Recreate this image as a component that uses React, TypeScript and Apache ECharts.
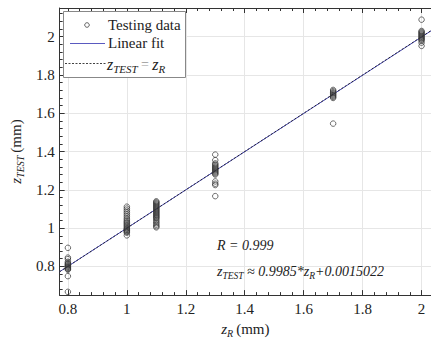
import React, { useEffect, useRef } from "react";
import * as echarts from "echarts";

// Reference heights z_R (mm)
const zR = [0.8, 1.0, 1.1, 1.3, 1.7, 2.0];
// Measured z_TEST values (mm) for each reference height
const zTest_080 = [0.897, 0.846, 0.838, 0.824, 0.818, 0.813, 0.809, 0.805, 0.801, 0.797, 0.793, 0.789, 0.786, 0.783, 0.749, 0.667];
const zTest_100 = [1.112, 1.102, 1.092, 1.082, 1.072, 1.062, 1.052, 1.044, 1.036, 1.03, 1.024, 1.018, 1.012, 1.006, 1.0, 0.996, 0.992, 0.988, 0.984, 0.98, 0.976, 0.962];
const zTest_110 = [1.14, 1.135, 1.13, 1.125, 1.12, 1.115, 1.11, 1.105, 1.1, 1.095, 1.09, 1.085, 1.08, 1.075, 1.07, 1.065, 1.06, 1.055, 1.05, 1.042, 1.034, 1.026, 1.018, 1.01, 1.004];
const zTest_130 = [1.384, 1.355, 1.338, 1.332, 1.326, 1.32, 1.315, 1.31, 1.305, 1.3, 1.295, 1.29, 1.285, 1.28, 1.244, 1.232, 1.225, 1.167];
const zTest_170 = [1.722, 1.716, 1.71, 1.705, 1.7, 1.695, 1.69, 1.685, 1.68, 1.546];
const zTest_200 = [2.089, 2.03, 2.025, 2.02, 2.015, 2.01, 2.005, 2.0, 1.995, 1.99, 1.985, 1.98, 1.969, 1.952];
const zTestGroups = [zTest_080, zTest_100, zTest_110, zTest_130, zTest_170, zTest_200];

// Linear fit  z_TEST = slope * z_R + intercept
const fitSlope = 0.9985;
const fitIntercept = 0.0015022;
const fitR = "0.999";

// Axis ranges
const xMin = 0.772;
const xMax = 2.032;
const yMin = 0.65;
const yMax = 2.15;

const FONT = "Liberation Serif";

export default function App() {
  const ref = useRef<HTMLDivElement>(null);
  useEffect(() => {
    if (!ref.current) return;
    const chart = echarts.init(ref.current, null, { renderer: "svg" });

    const scatterData: number[][] = [];
    zR.forEach((x, i) => zTestGroups[i].forEach((y) => scatterData.push([x, y])));
    const fitLine = [xMin, xMax].map((x) => [x, fitSlope * x + fitIntercept]);
    const idLine = [xMin, xMax].map((x) => [x, x]);

    const fmt = (v: number) => {
      const k = Math.round(v / 0.2);
      if (Math.abs(v - k * 0.2) > 1e-6) return "";
      return String(Math.round(v * 10) / 10);
    };

    const axisCommon = {
      axisLine: { show: true, onZero: false, lineStyle: { color: "#333", width: 1 } },
      axisTick: { show: true, inside: true, length: 5, lineStyle: { color: "#333" } },
      minorTick: { show: true, splitNumber: 5, length: 3, lineStyle: { color: "#333" } },
      splitLine: { show: true, lineStyle: { color: "#e6e6e6", width: 1 } },
      minInterval: 0.2,
      maxInterval: 0.2,
    };

    const nameRich = {
      i: { fontFamily: FONT, fontStyle: "italic", fontSize: 15, color: "#222" },
      sub: { fontFamily: FONT, fontStyle: "italic", fontSize: 10, color: "#222", padding: [9, 0, 0, 0] },
      n: { fontFamily: FONT, fontSize: 15, color: "#222" },
    };

    chart.setOption({
      animation: false,
      textStyle: { fontFamily: FONT },
      grid: { left: 58, right: 0, top: 8, bottom: 42, containLabel: false },
      xAxis: [
        {
          type: "value",
          min: xMin,
          max: xMax,
          splitNumber: 6,
          ...axisCommon,
          axisLabel: {
            fontFamily: FONT,
            fontSize: 15,
            color: "#222",
            margin: 6,
            showMinLabel: false,
            showMaxLabel: false,
            formatter: fmt,
          },
          name: "{i|z}{sub|R} {n|(mm)}",
          nameLocation: "middle",
          nameGap: 9,
          nameTextStyle: { fontFamily: FONT, rich: nameRich },
        },
        {
          type: "value",
          position: "top",
          min: xMin,
          max: xMax,
          splitNumber: 6,
          ...axisCommon,
          splitLine: { show: false },
          axisLabel: { show: false },
        },
      ],
      yAxis: [
        {
          type: "value",
          min: yMin,
          max: yMax,
          splitNumber: 7,
          ...axisCommon,
          axisLabel: {
            fontFamily: FONT,
            fontSize: 15,
            color: "#222",
            margin: 5,
            showMinLabel: false,
            showMaxLabel: false,
            formatter: fmt,
          },
          name: "{i|z}{sub|TEST} {n|(mm)}",
          nameLocation: "middle",
          nameRotate: 90,
          nameGap: 30,
          nameTextStyle: { fontFamily: FONT, rich: nameRich },
        },
      ],
      series: [
        {
          type: "line",
          data: fitLine,
          showSymbol: false,
          symbol: "none",
          lineStyle: { color: "#4848b0", width: 1 },
          z: 2,
        },
        {
          type: "line",
          data: idLine,
          showSymbol: false,
          symbol: "none",
          lineStyle: { color: "#111", width: 0.8, type: [2, 2] },
          z: 3,
        },
        {
          type: "scatter",
          data: scatterData,
          symbol: "circle",
          symbolSize: 5.5,
          itemStyle: { color: "rgba(255,255,255,0)", borderColor: "#333", borderWidth: 0.9 },
          z: 4,
        },
      ],
      graphic: [
        {
          type: "rect",
          shape: { x: 63.5, y: 11.5, width: 122, height: 66 },
          style: { fill: "#fff", stroke: "#888", lineWidth: 1 },
          z: 100,
        },
        {
          type: "circle",
          shape: { cx: 87, cy: 25, r: 2.3 },
          style: { fill: "none", stroke: "#555", lineWidth: 0.9 },
          z: 101,
        },
        {
          type: "text",
          x: 108,
          y: 25,
          style: { text: "Testing data", fontFamily: FONT, fontSize: 15, fill: "#222", verticalAlign: "middle" },
          z: 101,
        },
        {
          type: "line",
          shape: { x1: 70, y1: 43.5, x2: 105, y2: 43.5 },
          style: { stroke: "#5a5ac0", lineWidth: 1 },
          z: 101,
        },
        {
          type: "text",
          x: 108,
          y: 43,
          style: { text: "Linear fit", fontFamily: FONT, fontSize: 15, fill: "#222", verticalAlign: "middle" },
          z: 101,
        },
        {
          type: "line",
          shape: { x1: 65, y1: 63.5, x2: 106, y2: 63.5 },
          style: { stroke: "#111", lineWidth: 0.8, lineDash: [2, 1.5] },
          z: 101,
        },
        {
          type: "text",
          x: 107,
          y: 64,
          style: {
            text: "{i|z}{sub|TEST} {n|=} {i|z}{sub|R}",
            verticalAlign: "middle",
            rich: {
              i: { fontFamily: FONT, fontStyle: "italic", fontSize: 16, fill: "#222" },
              sub: { fontFamily: FONT, fontStyle: "italic", fontSize: 11, fill: "#222", padding: [10, 0, 0, 0] },
              n: { fontFamily: FONT, fontSize: 14, fill: "#999" },
            },
          },
          z: 101,
        },
        {
          type: "text",
          x: 217,
          y: 245,
          style: {
            text: "R = " + fitR,
            fontFamily: FONT,
            fontStyle: "italic",
            fontSize: 14,
            fill: "#222",
            verticalAlign: "middle",
          },
          z: 50,
        },
        {
          type: "text",
          x: 217,
          y: 271,
          style: {
            text: `{i|z}{sub|TEST}{i| ≈ ${fitSlope}*z}{sub|R}{i|+${fitIntercept}}`,
            verticalAlign: "middle",
            rich: {
              i: { fontFamily: FONT, fontStyle: "italic", fontSize: 14, fill: "#222" },
              sub: { fontFamily: FONT, fontStyle: "italic", fontSize: 9.5, fill: "#222", padding: [9, 0, 0, 0] },
            },
          },
          z: 50,
        },
      ],
    });
    return () => chart.dispose();
  }, []);
  return (
    <div
      ref={ref}
      style={{ position: "absolute", left: 0, top: 0, width: 431, height: 343, background: "#fff" }}
    />
  );
}
